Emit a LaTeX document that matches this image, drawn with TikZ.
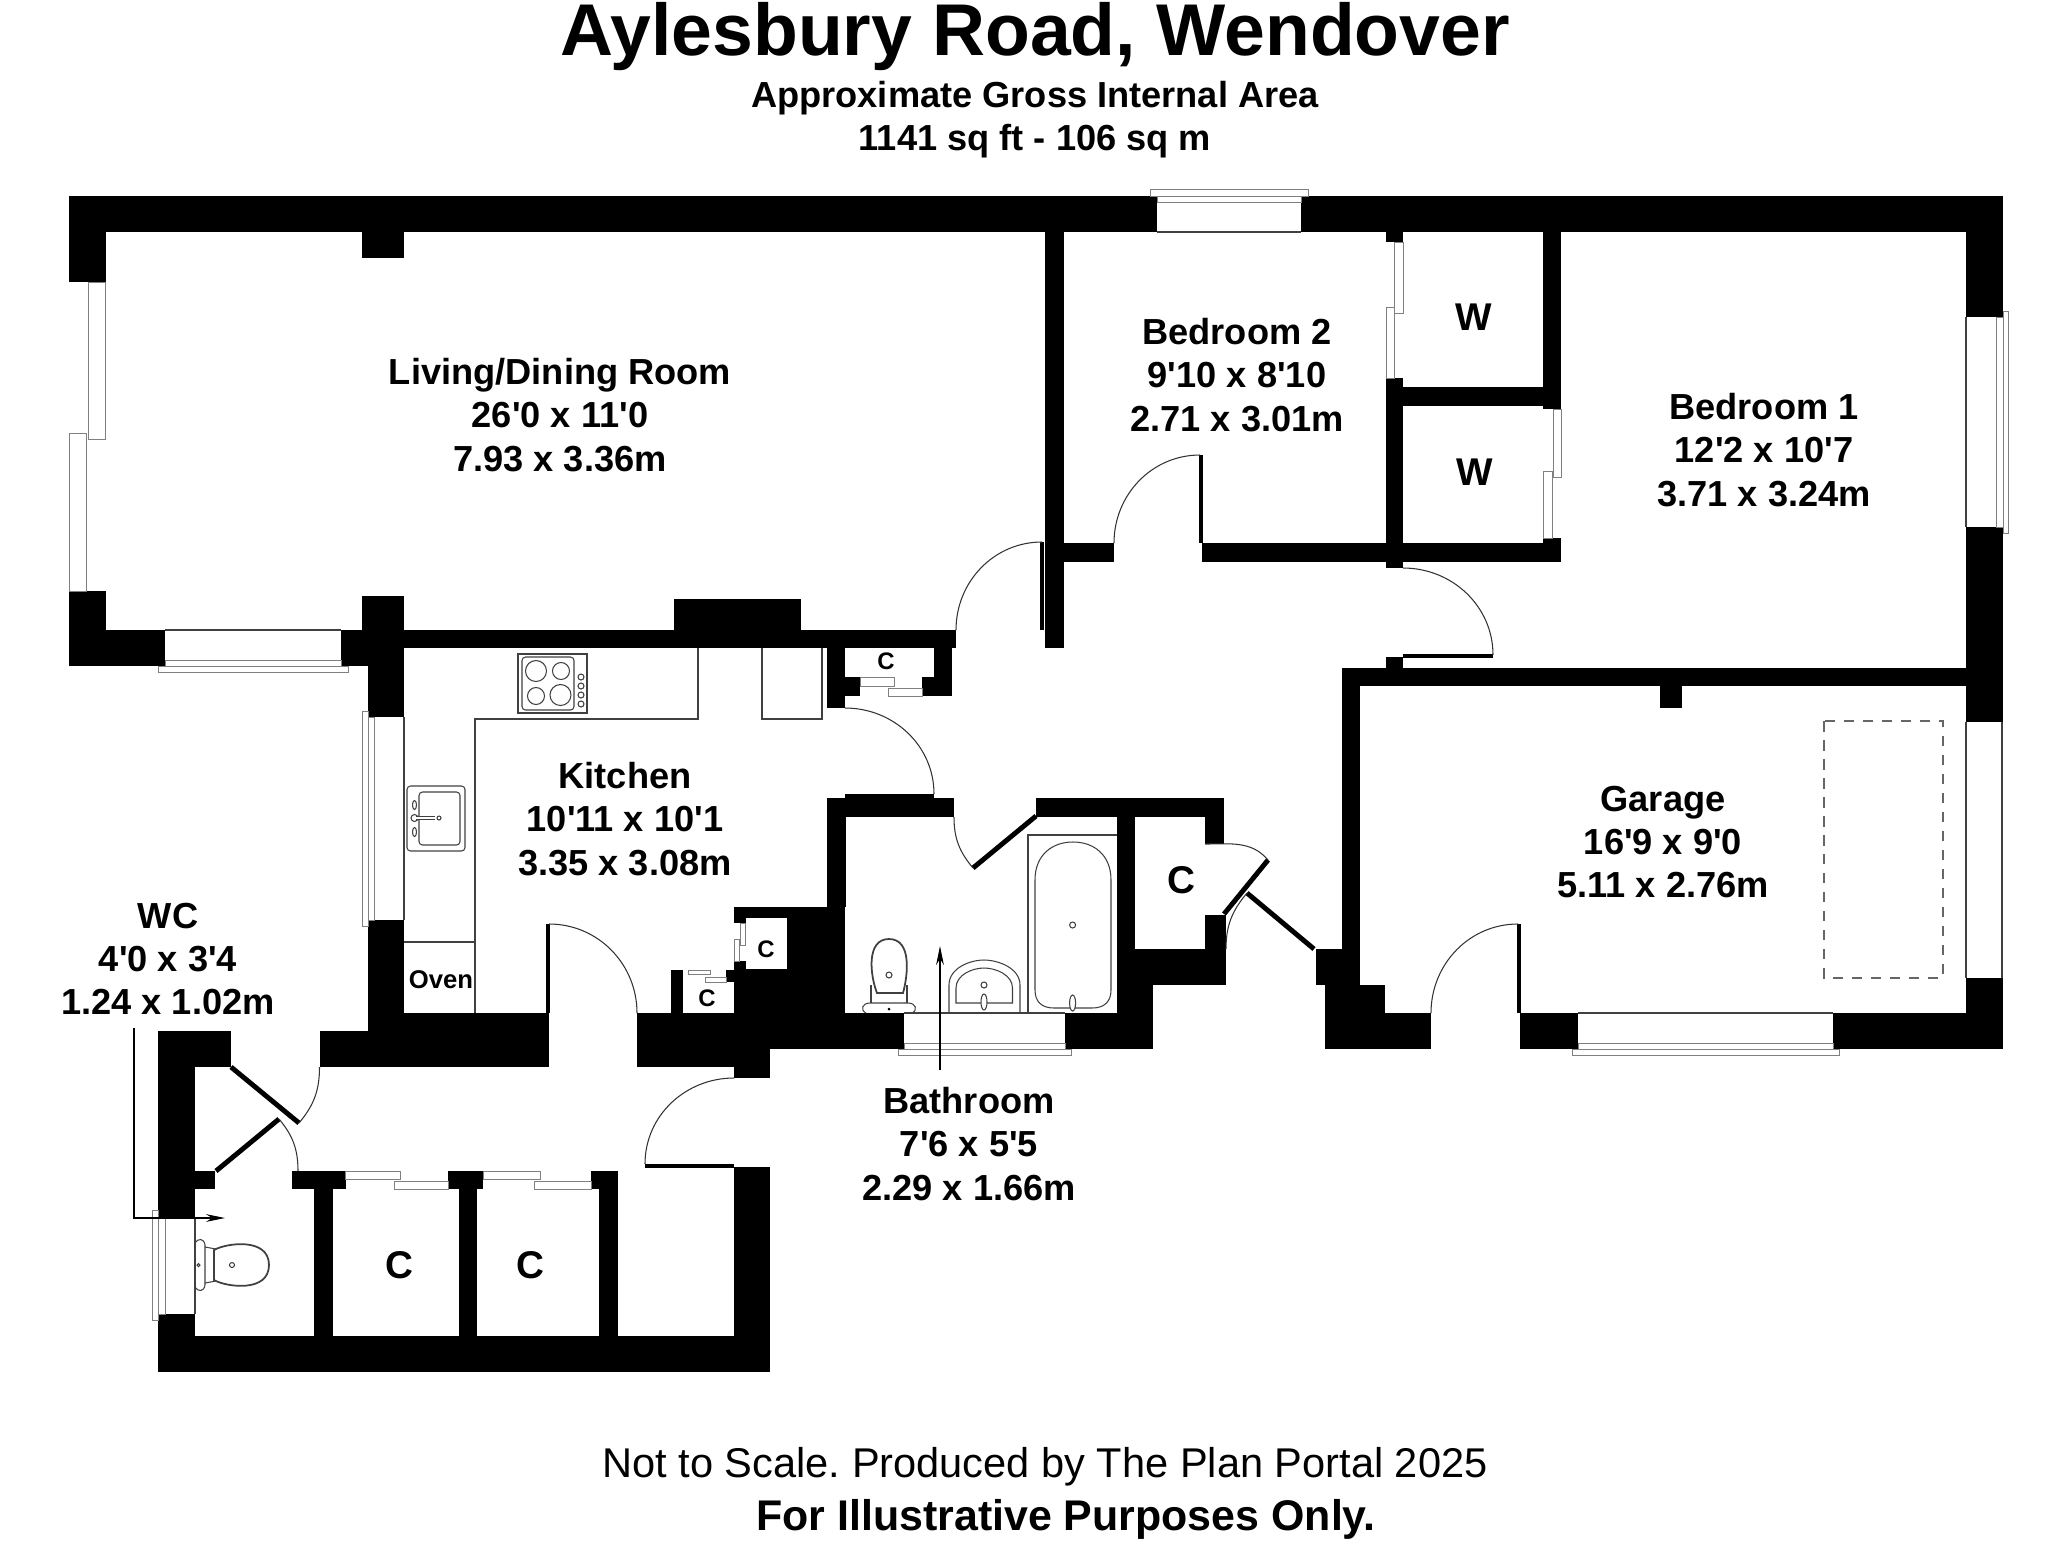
\documentclass[tikz,border=0pt]{standalone}
\usepackage{fontspec}
\setmainfont{Liberation Sans}[Ligatures=TeXOff]
\usetikzlibrary{arrows.meta}
\tikzset{
  wall/.style={fill=black},
  pane/.style={draw=black!50,line width=.25pt,fill=white},
  fixture/.style={draw=black!75,line width=.3pt},
  leaf/.style={draw=black,line width=1.4pt},
  thinleaf/.style={draw=black,line width=.9pt},
  swing/.style={draw=black!80,line width=.3pt},
  roomlabel/.style={font=\bfseries\fontsize{10.3}{12.3}\selectfont,align=center,inner sep=0pt},
  closetlabel/.style={font=\bfseries\fontsize{11}{13}\selectfont,inner sep=0pt},
  smalllabel/.style={font=\bfseries\fontsize{6.8}{8}\selectfont,inner sep=0pt},
}
\begin{document}
\begin{tikzpicture}[x=0.01cm,y=-0.01cm,>={Stealth[length=5.4pt,width=2.2pt]}]
  \useasboundingbox (0,0) rectangle (2048,1560);
  % walls
  \foreach \xa/\ya/\xb/\yb in {69/196/1157/232,1301/196/2003/232,69/232/105.5/282,69/591/105.5/666,
    105.5/630/165/666,341/630/404/666,362/596/404/630,368/666/404/717,362/232/404/258,
    404/630/956/648,674/599/801/630,827/648/845/708,845/677/860/696,934/648/952/696,922/677/952/696,
    368/920/404/1031,319.5/1031/404/1067,404/1013/549/1067,158/1031/231/1067,158/1067/195/1217,
    195/1171/214.5/1189,158/1314/195/1372,195/1336/770/1372,292/1171/345.5/1189,314/1189/333/1336,
    448/1171/483/1189,459/1189/477/1336,591/1171/618/1189,599/1189/618/1336,734/1167/770/1336,
    637/1013/904/1049,637/1049/770/1067,733.5/1067/770/1078,1065/1013/1153/1049,
    671/970/683/1013,726/970/746/982,733.5/907/845/918,733.5/918/746/923,734/961/746/982,
    746/969/845/1013,787/918/845/969,733.5/982/746/1013,
    827/798/846/907,827/798/954/817,1036/798/1224/817,1117/817/1135/949,1117/949/1226/985,
    1117/985/1153/1049,1205/817/1224/844,1205/915/1226/949,
    1316/949/1342/985,1325/985/1385/1049,1385/1013/1431/1049,
    1342/668/1360/988,1342/668/1966/686,1660/686/1682/708,1386/657/1403/668,
    1966/232/2003/317,1966/527/2003/722,1966/978/2003/1049,1833/1013/1966/1049,1520/1013/1578/1049,
    1045/232/1064/648,1064/543/1114/562,1202/543/1561/562,1386/232/1403/242,1386/378/1403/568,
    1543/232/1561/409,1403/387/1543/406,1543/538/1561/562}
    \fill[wall] (\xa,\ya) rectangle (\xb,\yb);
  % windows and sliding doors
  \foreach \xa/\ya/\xb/\yb in {88/282/105.5/439,69/433/86/591,165/660/341/666,158/666/348/672,
    1157/196/1301/202,1150/189/1308/196,1996/317/2003/527,2003/311/2008/533,
    904/1043/1065/1049,898/1049/1071/1055,1578/1043/1833/1049,1572/1049/1839/1055,
    362/711/368/926,368/717/374/920,152/1210/158/1320,158/1217/165/1314,
    860/677/894/686,888/688/922/696,740/923/745/945,734/939/739/961,688/970/710/974,705/977/726/982,
    345.5/1171/400/1179,394/1181/448/1189,483/1171/540/1179,534/1181/591/1189,
    1394/242/1403/313,1386/307/1394/378,1553/409/1561/477,1543/471/1552/538}
    \draw[pane] (\xa,\ya) rectangle (\xb,\yb);
  \foreach \xa/\ya/\xb/\yb in {165/630/341/630,1157/232/1301/232,1966/317/1966/527,1966/722/1966/978,
    2002/722/2002/978,904/1013/1065/1013,1578/1013/1833/1013,404/717/404/920,195/1217/195/1314}
    \draw[fixture] (\xa,\ya) -- (\xb,\yb);
  % doors
  \draw[thinleaf] (1042,542) -- (1042,630);
  \draw[thinleaf] (1201,455) -- (1201,543);
  \draw[thinleaf] (1403,656) -- (1493,656);
  \draw[thinleaf] (845,796) -- (934,796);
  \draw[thinleaf] (548,924) -- (548,1013);
  \draw[thinleaf] (645,1166) -- (734,1166);
  \draw[thinleaf] (1519,924) -- (1519,1013);
  \draw[leaf] (231,1067) -- (299,1123);
  \draw[leaf] (216,1171) -- (279,1119);
  \draw[leaf] (1036,816) -- (973,868);
  \draw[leaf] (1224,914) -- (1268,860);
  \draw[leaf] (1314,949) -- (1247,893);
  \draw[swing] (956,630) to[out=90,in=180] (1042,542);
  \draw[swing] (1114,543) to[out=90,in=180] (1200,455);
  \draw[swing] (1403,568) to[out=0,in=90] (1493,655);
  \draw[swing] (845,708) to[out=0,in=90] (934,794);
  \draw[swing] (549,924) to[out=0,in=90] (637,1013);
  \draw[swing] (734,1078) to[out=180,in=90] (645,1164);
  \draw[swing] (1431,1013) to[out=90,in=180] (1518,924);
  \draw[swing] (319.5,1067) to[out=-90,in=50] (299,1123);
  \draw[swing] (298,1171) to[out=90,in=-50] (279,1119);
  \draw[swing] (954,817) to[out=-90,in=130] (973,868);
  \draw[swing] (1205,844) to[out=0,in=130] (1268,860);
  \draw[swing] (1226,949) to[out=90,in=230] (1247,893);
  % kitchen units
  \draw[fixture] (698,648) -- (698,719) -- (475,719) -- (475,1013);
  \draw[fixture] (404,942) -- (475,942);
  \draw[fixture] (762,648) -- (762,719) -- (822,719) -- (822,648);
  % hob
  \draw[fixture] (518,654) rectangle (587,713);
  \draw[fixture,rounded corners=1pt] (522,657) rectangle (574,710);
  \draw[fixture] (536,671) circle (10.5);
  \draw[fixture] (561,671) circle (8.5);
  \draw[fixture] (536,696) circle (8.5);
  \draw[fixture] (560.5,695) circle (10.5);
  \foreach \yk in {677,686,695,704}
    \draw[fixture] (581,\yk) circle (3);
  % sink
  \draw[fixture,rounded corners=1pt] (407,786) rectangle (465,851);
  \draw[fixture,rounded corners=1pt] (419,792) rectangle (460,845);
  \draw[fixture] (414.5,805) ellipse (2 and 4.5);
  \draw[fixture] (414.5,832) ellipse (2 and 4.5);
  \draw[fixture] (414.5,818) circle (3.5);
  \draw[fixture,double,double distance=.4pt] (416,818) -- (435,818);
  \draw[fixture] (439,818) circle (2);
  % bathroom
  \draw[fixture] (1028,1013) -- (1028,835) -- (1117,835);
  \draw[fixture] (1035,880) .. controls (1035,855) and (1052,842) .. (1073,842)
    .. controls (1094,842) and (1111,855) .. (1111,880) -- (1111,990)
    .. controls (1111,1002) and (1104,1008) .. (1092,1008) -- (1054,1008)
    .. controls (1042,1008) and (1035,1002) .. (1035,990) -- cycle;
  \draw[fixture] (1072.6,925) circle (3);
  \draw[fixture,fill=white] (1072.6,1003) ellipse (3 and 8);
  \draw[fixture] (949,1013) -- (949,985) .. controls (949,968) and (970,960) .. (984,960)
    .. controls (998,960) and (1020,968) .. (1020,985) -- (1020,1013);
  \draw[fixture] (956,1003) -- (956,988) .. controls (956,975) and (972,968) .. (984,968)
    .. controls (996,968) and (1012.5,975) .. (1012.5,988) -- (1012.5,1003) -- cycle;
  \draw[fixture] (984,985) circle (3);
  \draw[fixture,fill=white] (984,1002) ellipse (3 and 8);
  \draw[fixture,line width=.5pt] (877,993) .. controls (870,975) and (866,939) .. (889,939)
    .. controls (912,939) and (908,975) .. (903,993) -- cycle;
  \draw[fixture] (889,975) circle (3);
  \draw[fixture] (871,985) -- (871,1003);
  \draw[fixture] (907,985) -- (907,1003);
  \draw[fixture] (866,1013) .. controls (860,1010) and (862,1003) .. (870,1003) -- (908,1003)
    .. controls (916,1003) and (918,1010) .. (912,1013);
  \fill (889,1009) circle (1.5);
  % wc
  \draw[fixture] (195,1243) .. controls (198,1238) and (204,1238) .. (205,1245) -- (205,1285)
    .. controls (204,1292) and (198,1292) .. (195,1287);
  \draw[fixture,line width=.5pt] (214,1250) .. controls (226,1243) and (269,1237) .. (269,1265)
    .. controls (269,1293) and (226,1287) .. (214,1280) -- cycle;
  \draw[fixture] (205,1247) -- (216,1249);
  \draw[fixture] (205,1283) -- (216,1281);
  \draw[fixture] (232,1265) circle (2.5);
  \draw[fixture] (198.5,1265) circle (1.5);
  % garage
  \draw[black!60,line width=.4pt,dashed,dash pattern=on 3pt off 2.4pt] (1824,721) rectangle (1943,978);
  % arrows
  \coordinate (bathtail) at (940,1070);
  \coordinate (bathhead) at (940,946);
  \coordinate (wctail) at (134,1028);
  \coordinate (wchead) at (225,1218);
  \draw[->,black,line width=.3pt] (bathtail) -- (bathhead);
  \draw[->,black,line width=.3pt] (wctail) |- (wchead);
  % title
  \node[font=\bfseries\fontsize{20.85}{25}\selectfont,inner sep=0pt] (title) at (1035,37) {Aylesbury Road, Wendover};
  \node[font=\bfseries\fontsize{10.3}{12.3}\selectfont,align=center,inner sep=0pt] (area) at (1035,120) {Approximate Gross Internal Area\\1141 sq ft - 106 sq m};
  % room labels
  \node[roomlabel] (living) at (560,415) {Living/Dining Room\\26'0 x 11'0\\7.93 x 3.36m};
  \node[roomlabel] (bedtwo) at (1237,375) {Bedroom 2\\9'10 x 8'10\\2.71 x 3.01m};
  \node[roomlabel] (bedone) at (1764,450) {Bedroom 1\\12'2 x 10'7\\3.71 x 3.24m};
  \node[roomlabel] (kitchen) at (625,819) {Kitchen\\10'11 x 10'1\\3.35 x 3.08m};
  \node[roomlabel] (garage) at (1663,842) {Garage\\16'9 x 9'0\\5.11 x 2.76m};
  \node[roomlabel] (bathroom) at (969,1144) {Bathroom\\7'6 x 5'5\\2.29 x 1.66m};
  \node[roomlabel] (wc) at (168,959) {WC\\4'0 x 3'4\\1.24 x 1.02m};
  \node[closetlabel] (wone) at (1474,317) {W};
  \node[closetlabel] (wtwo) at (1475,472) {W};
  \node[closetlabel] (cbath) at (1181,880) {C};
  \node[closetlabel] (cone) at (399,1265) {C};
  \node[closetlabel] (ctwo) at (530,1265) {C};
  \node[smalllabel] (cupper) at (886,661) {C};
  \node[smalllabel] (cmid) at (766,949) {C};
  \node[smalllabel] (clow) at (707,998) {C};
  \node[font=\bfseries\fontsize{7.3}{9}\selectfont,inner sep=0pt] (oven) at (441,980) {Oven};
  % footer
  \node[font=\fontsize{11.82}{14}\selectfont\frenchspacing,inner sep=0pt] (scale) at (1045,1467) {Not to Scale. Produced by The Plan Portal 2025};
  \node[font=\bfseries\fontsize{12.2}{14}\selectfont,inner sep=0pt] (illus) at (1066,1519) {For Illustrative Purposes Only.};
\end{tikzpicture}
\end{document}
